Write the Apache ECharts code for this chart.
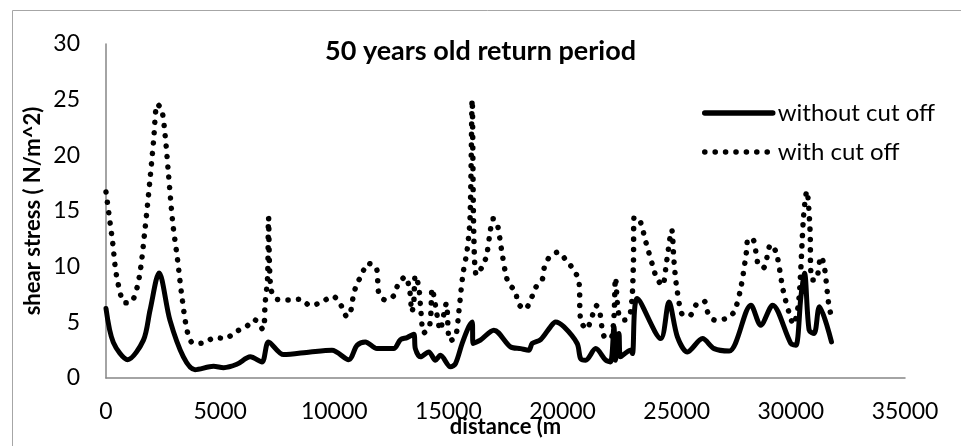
<!DOCTYPE html>
<html>
<head>
<meta charset="utf-8">
<script src="https://cdn.jsdelivr.net/npm/echarts@6/dist/echarts.min.js"></script>
<style>
html,body{margin:0;padding:0;background:#fff;}
#chart{width:961px;height:446px;}
</style>
</head>
<body>
<div id="chart"></div>
<script>
// without cut off
var distA = [0,320,950,1640,1930,2325,2800,3390,3900,4710,5150,5730,6320,6830,7120,7780,8950,9900,10630,11000,11360,11870,12600,12900,13190,13480,13550,13770,14140,14430,14650,15090,15310,15600,15890,16040,16080,16400,16990,17720,18160,18520,18670,19040,19470,19690,20060,20640,20790,21010,21450,21890,22100,22250,22320,22470,22540,22980,23060,23270,24300,24660,25030,25470,26130,26640,27300,28250,28680,29200,30000,30220,30440,30600,30800,31020,31250,31780];
var stressA = [6.24,3.2,1.65,3.4,6.1,9.44,5.2,1.9,0.75,1.05,0.93,1.23,1.9,1.44,3.24,2.1,2.34,2.49,1.65,2.94,3.24,2.64,2.64,3.45,3.63,3.93,2.64,1.9,2.34,1.6,2.04,1.0,1.3,3.1,4.6,5.04,3.1,3.4,4.3,2.8,2.64,2.5,3.1,3.45,4.6,5.04,4.6,3.1,1.75,1.6,2.64,1.6,1.44,4.6,1.6,4.0,1.9,2.5,2.2,7.14,3.54,6.83,3.7,2.34,3.54,2.64,2.43,6.54,4.74,6.54,3.1,2.94,7.3,9.4,4.3,4.0,6.4,3.24];
// with cut off
var distB = [0,290,470,830,1150,1460,1710,1930,2080,2250,2440,2590,2730,2920,3130,3320,3570,3830,4270,4780,5230,5660,6140,6490,6870,6970,7080,7120,7220,7510,8000,8510,8950,9460,9940,10290,10560,10730,10820,10960,11210,11460,11840,11950,12240,12630,12780,13110,13300,13400,13480,13550,13700,13800,13920,14180,14290,14430,14650,14760,14910,15060,15310,15450,15630,15820,15950,16040,16110,16230,16480,16670,16840,16960,17130,17320,17500,17650,17940,18040,18350,18670,18820,19110,19210,19440,19800,20180,20530,20720,20790,21050,21270,21480,21620,21810,22100,22250,22320,22470,22720,22980,23100,23130,23350,23650,23960,24120,24370,24560,24780,24880,25030,25290,25580,25860,26200,26370,26670,27150,27510,27810,28060,28130,28360,28570,28800,29120,29370,29660,29930,30110,30340,30560,30700,30840,30870,30950,31100,31320,31460,31650,31750];
var stressB = [16.7,12.2,9.1,6.75,6.9,9.1,13.4,17.9,21.2,24.6,24.1,21.8,18.5,14.0,10.7,7.4,4.1,3.1,3.15,3.63,3.54,4.14,4.6,5.25,4.38,6.7,9.1,14.4,8.04,7.05,7.0,7.08,6.5,6.83,7.35,6.54,5.5,6.1,7.2,8.3,9.3,10.3,9.9,7.64,7.0,7.44,8.34,9.1,7.9,5.94,6.75,9.2,8.2,5.85,4.05,4.74,8.04,6.54,4.3,5.34,6.7,3.33,3.7,5.85,9.24,11.5,14.5,25.0,13.0,9.24,10.0,11.0,13.3,14.3,13.9,11.6,9.44,8.43,7.8,6.75,6.18,7.35,8.13,8.85,10.0,10.9,11.3,10.5,9.6,8.6,5.25,4.38,5.4,6.5,6.0,3.78,3.54,5.5,9.0,5.64,5.2,5.94,10.0,14.4,14.3,12.2,10.0,9.0,8.3,10.5,13.3,10.5,7.7,5.64,5.64,6.6,6.9,5.85,5.2,5.34,5.94,8.13,11.4,12.5,12.4,10.2,9.9,12.0,11.2,7.9,5.8,4.83,6.83,14.6,16.8,13.3,9.8,8.8,8.8,10.9,10.1,6.75,5.7];
var yTicks = [0,5,10,15,20,25,30];
var xTicks = [0,5000,10000,15000,20000,25000,30000,35000];

function pairs(xs, ys){ return xs.map(function(x,i){ return [x, ys[i]]; }); }

var FONT = 'Lato';
var DOT = [0.1, 10.3];
var chart = echarts.init(document.getElementById('chart'), null, {renderer:'canvas'});
chart.setOption({
  animation: false,
  backgroundColor: '#ffffff',
  graphic: [{
    type: 'rect', left: 10, top: 8, z: -10,
    shape: {width: 1000, height: 500},
    style: {fill: 'none', stroke: '#a6a6a6', lineWidth: 1}
  }],
  title: {
    text: '50 years old return period',
    left: 'center', top: 33,
    textStyle: {fontFamily: FONT, fontSize: 27, fontWeight: 'bold', color: '#000'}
  },
  legend: {
    orient: 'vertical', left: 697, top: 96,
    itemWidth: 68, itemHeight: 14, itemGap: 15,
    itemStyle: {opacity: 0},
    lineStyle: {width: 5.5},
    textStyle: {fontFamily: FONT, fontSize: 24, color: '#000'},
    data: ['without cut off', 'with cut off']
  },
  grid: {left: 106, right: 56, top: 44, bottom: 68, containLabel: false, outerBoundsMode: 'none'},
  xAxis: {
    type: 'value', min: xTicks[0], max: xTicks[xTicks.length-1], interval: 5000,
    name: 'distance (m', nameLocation: 'middle', nameGap: 38, nameMoveOverlap: false,
    nameTextStyle: {fontFamily: FONT, fontSize: 22, fontWeight: 'bold', color: '#000'},
    axisLine: {show: true, lineStyle: {color: '#868686', width: 1.5}},
    axisTick: {show: false},
    splitLine: {show: false},
    axisLabel: {fontFamily: FONT, fontSize: 23, color: '#000', margin: 22,
      formatter: function(v){ return String(v); }}
  },
  yAxis: {
    type: 'value', min: yTicks[0], max: yTicks[yTicks.length-1], interval: 5,
    name: 'shear stress ( N/m^2)', nameLocation: 'middle', nameGap: 62, nameRotate: 90, nameMoveOverlap: false,
    nameTextStyle: {fontFamily: FONT, fontSize: 22, fontWeight: 'bold', color: '#000'},
    axisLine: {show: true, lineStyle: {color: '#868686', width: 1.5}},
    axisTick: {show: false},
    splitLine: {show: false},
    axisLabel: {fontFamily: FONT, fontSize: 23, color: '#000', margin: 26,
      formatter: function(v){ return String(v); }}
  },
  series: [{
    name: 'without cut off', type: 'line', symbol: 'none', smooth: 0.3,
    data: pairs(distA, stressA),
    lineStyle: {color: '#000', width: 5, cap: 'round', join: 'round'},
    itemStyle: {color: '#000'}
  },{
    name: 'with cut off', type: 'line', symbol: 'none', smooth: 0.3,
    data: pairs(distB, stressB),
    lineStyle: {color: '#000', width: 5.5, type: DOT, cap: 'round', join: 'round'},
    itemStyle: {color: '#000'}
  }]
});
</script>
</body>
</html>
